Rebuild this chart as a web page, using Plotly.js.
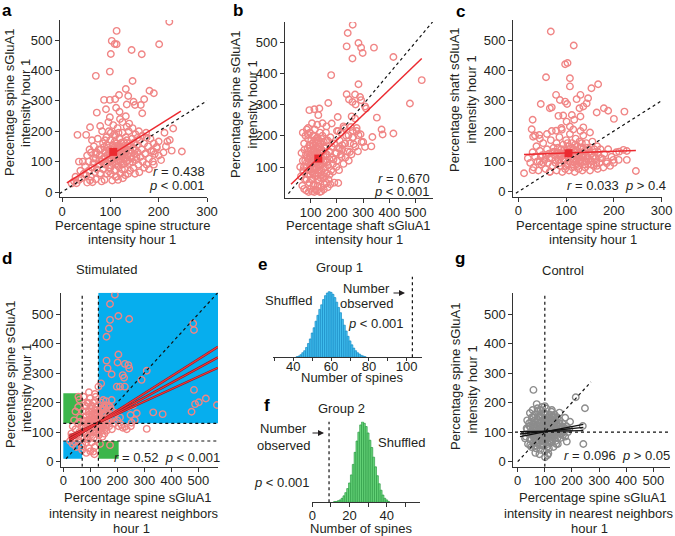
<!DOCTYPE html>
<html>
<head>
<meta charset="utf-8">
<script src="https://cdn.plot.ly/plotly-3.0.1.min.js"></script>
<style>
  html, body { margin: 0; padding: 0; background: #fff; }
  #fig { width: 675px; height: 536px; }
</style>
</head>
<body>
<div id="fig"></div>
<script>
(function () {
	"use strict";

	// ---- data ----
	// a: spine structure (x) vs spine sGluA1 (y)
	var aPoints = [
		[222,560],[113,530],[103,497],[113,486],[109,487],[101,454],[144,467],[165,453],[201,486],[70,382],
		[99,396],[146,365],[132,339],[181,333],[190,325],[118,319],[137,316],[110,305],[87,303],[99,303],
		[148,297],[170,305],[151,286],[163,286],[134,288],[72,261],[91,272],[112,277],[119,264],[166,259],
		[132,249],[99,246],[58,213],[79,217],[50,188],[32,188],[230,209],[212,195],[223,171],[248,133],
		[227,136],[218,166],[200,166],[175,179],[196,149],[189,133],[173,127],[35,100],[113,50],[30,29],
		[52,31],[79,61],
		[40,45],[45,60],[50,55],[55,70],[60,50],[62,80],[65,95],[68,65],[70,110],[72,75],[75,90],[78,120],
		[80,60],[80,140],[82,100],[85,75],[85,160],[88,115],[90,130],[90,90],[92,180],[93,60],[95,105],
		[95,145],[97,200],[98,125],[100,80],[100,170],[102,110],[103,140],[104,95],[105,155],[106,220],
		[107,120],[108,70],[110,135],[110,185],[112,100],[113,160],[114,115],[115,210],[116,145],[117,85],
		[118,130],[119,175],[120,105],[120,240],[122,150],[123,125],[124,90],[125,195],[126,140],[127,110],
		[128,165],[130,130],[130,75],[132,180],[133,100],[135,150],[136,120],[138,200],[140,95],[140,160],
		[142,135],[144,110],[145,175],[147,145],[148,80],[150,125],[152,190],[153,105],[155,155],[157,130],
		[158,90],[160,170],[162,115],[165,140],[167,100],[170,160],[172,125],[175,90],[178,150],[180,110],
		[185,135],[188,100],[192,125],[60,130],[55,100],[48,85],[35,40],[38,70],[52,120],[66,150],[74,175],
		[83,200],[96,230],[86,95],[101,60],[111,50],[121,60],[131,55],[141,70],[151,60],[25,35],[28,50],
		[58,38],[70,42],[88,40],[76,140],[69,125],[93,155],[108,190],[125,230],[139,225],[146,210],[159,200],
		[166,185],[174,195],[183,175],[190,160],[196,145],[200,120],[205,105],[210,130],[215,150],[160,65],
		[170,80],[180,75],[190,90],[137,60],[126,45],[116,40],[104,38],[82,35],[63,32],[20,28],[43,100],
		[57,140],[62,170],[98,112],[106,128],[114,138],[121,118],[109,148],[117,102],[129,146],[101,132],
		[84,108],[91,97],[94,122],[97,138],[99,88],[103,104],[105,118],[107,146],[109,165],[111,92],[113,128],
		[115,152],[116,118],[119,140],[121,98],[123,162],[124,135],[126,122],[128,92],[129,152],[131,112],
		[133,138],[134,170],[136,104],[139,128],[141,148],[143,118],[146,98],[149,162],[151,140],[154,115],
		[156,178],[87,148],[89,170],[77,105],[72,130],[66,110],[101,195],[117,195],[134,215],[124,75],
		[111,72],[97,68]
	];
	// b: shaft sGluA1 (x) vs spine sGluA1 (y)
	var bPoints = [
		[260,555],[241,529],[237,486],[259,447],[282,497],[292,482],[298,465],[341,482],[415,452],[523,378],
		[478,303],[178,394],[282,365],[237,333],[269,332],[288,324],[246,316],[259,308],[271,300],[292,314],
		[307,294],[311,287],[167,305],[133,287],[114,285],[95,282],[129,266],[203,260],[352,258],[370,220],
		[374,204],[415,207],[335,196],[256,262],[269,255],[225,230],[253,228],[275,215],[282,202],[259,194],
		[205,215],[180,239],[244,202],[294,180],[307,164],[331,166],[231,175],[211,159],[198,145],[249,148],
		[187,124],[218,132],[264,173],[205,49],[161,49],[114,20],[140,22],[72,84],
		[65,145],[70,120],[72,90],[75,175],[78,60],[80,200],[82,140],[85,100],[85,220],[88,160],[90,75],
		[90,190],[92,125],[95,50],[95,170],[97,210],[98,105],[100,140],[100,30],[102,185],[104,85],[105,155],
		[106,60],[108,200],[110,120],[110,40],[112,170],[114,95],[115,140],[116,220],[118,70],[120,180],
		[120,110],[122,150],[124,25],[125,130],[126,195],[128,80],[130,165],[130,100],[132,55],[134,145],
		[135,210],[136,120],[138,175],[140,90],[140,35],[142,155],[144,110],[145,200],[147,65],[148,135],
		[150,180],[150,95],[152,45],[155,160],[156,120],[158,210],[160,80],[162,140],[165,185],[166,105],
		[168,60],[170,150],[172,125],[175,195],[178,90],[180,165],[182,130],[185,110],[190,175],[195,145],
		[200,120],[205,160],[210,185],[215,140],[220,170],[60,100],[63,70],[68,40],[75,30],[83,25],[92,20],
		[105,22],[118,28],[135,20],[150,28],[165,35],[175,45],[190,50],[160,230],[145,240],[125,235],
		[105,240],[90,225],[70,210],[108,80],[118,160],[128,115],[138,65],[96,135],[86,115],[76,155],[155,70],
		[172,75],[185,85],[198,100],[208,90],[225,110],[232,130],[240,150],[250,175],[262,195],[270,165],
		[245,120],[255,140],[280,150],[300,180],[290,205],[275,225],[260,215],[235,200],[228,225],[215,210],
		[200,215],[220,155],[230,175],[112,132],[124,148],[133,118],[102,118],[118,92],[128,178],
		[88,130],[92,150],[94,90],[98,170],[101,110],[103,60],[106,175],[107,135],[109,95],[111,150],
		[113,200],[116,125],[117,80],[119,140],[121,190],[123,100],[125,160],[127,60],[129,140],[131,185],
		[133,90],[135,165],[137,105],[139,130],[141,190],[143,75],[146,150],[149,120],[151,165],[154,100],
		[157,140],[159,185],[161,115],[99,75],[89,205],[84,60],[79,120],[74,100],[112,45],[126,40]
	];
	// c: spine structure (x) vs shaft sGluA1 (y)
	var cPoints = [
		[68,528],[116,482],[98,420],[103,424],[108,374],[108,347],[58,377],[153,341],[167,354],[47,289],
		[70,278],[66,275],[79,319],[87,302],[98,297],[102,289],[122,305],[130,319],[146,308],[143,291],
		[136,281],[128,275],[164,261],[179,275],[188,267],[200,240],[222,264],[112,253],[94,251],[84,250],
		[101,231],[117,237],[130,248],[30,237],[28,206],[31,181],[44,187],[136,212],[108,215],[91,204],
		[79,201],[12,61],[30,71],[45,99],[246,68],[227,105],[220,138],[227,134],[211,132],[199,105],
		[185,94],[164,85],[143,99],[66,66],
		[20,110],[25,95],[30,130],[32,80],[35,115],[38,150],[40,100],[42,70],[45,135],[48,90],[50,120],
		[52,160],[55,105],[57,75],[60,140],[62,95],[64,125],[66,65],[68,170],[70,110],[72,85],[74,145],
		[76,120],[78,95],[80,160],[80,70],[82,130],[84,105],[86,180],[88,85],[90,140],[90,115],[92,65],
		[94,155],[95,100],[96,125],[98,75],[100,170],[100,135],[102,90],[104,115],[105,150],[106,70],
		[108,190],[110,125],[110,95],[112,160],[113,80],[115,140],[116,105],[118,65],[120,175],[120,120],
		[122,90],[124,150],[125,110],[126,75],[128,165],[130,130],[130,95],[132,145],[134,70],[135,115],
		[136,185],[138,100],[140,135],[140,80],[142,160],[145,115],[146,90],[148,140],[150,70],[152,125],
		[154,100],[155,165],[158,85],[160,130],[162,110],[165,150],[166,75],[168,120],[170,95],[172,140],
		[175,110],[178,80],[180,125],[185,100],[188,140],[192,85],[195,115],[200,95],[205,130],[210,105],
		[60,190],[70,200],[90,210],[115,205],[130,200],[150,195],[45,175],[35,185],[86,118],[97,108],
		[118,132],[127,100],[108,142],[75,132],
		[65,110],[72,130],[78,105],[83,145],[87,95],[89,125],[93,110],[97,140],[99,85],[101,120],[103,160],
		[106,100],[107,130],[111,110],[113,145],[114,90],[117,120],[119,155],[121,100],[123,135],[125,85],
		[127,120],[129,145],[131,105],[133,160],[137,125],[139,90],[141,115],[144,145],[147,105],[149,130],
		[153,90],[156,115],[159,140],[163,95],[167,130],[171,110],[58,120],[52,95],[47,115]
	];
	// d: stimulated, neighbours (x) vs spine sGluA1 (y)
	var dPoints = [
		[191,565],[173,534],[204,493],[244,483],[173,480],[169,451],[481,468],[484,446],[160,423],[204,363],
		[160,342],[201,336],[164,316],[228,331],[241,327],[244,316],[179,296],[220,293],[225,284],[309,308],
		[290,277],[198,254],[210,254],[228,254],[140,265],[130,254],[484,243],[475,169],[488,195],[502,201],
		[528,214],[569,192],[333,167],[368,161],[309,111],[253,132],[265,141],[272,164],[259,192],[179,209],
		[148,209],[241,186],[249,158],[228,118],[173,56],[31,85],[43,68],[68,51],[89,85],[111,34],[62,135],
		[56,220],[86,186],[117,229],[93,198],[123,175],
		[25,70],[30,95],[35,60],[40,80],[45,110],[48,50],[50,90],[55,130],[58,70],[60,100],[62,150],[65,85],
		[68,120],[70,60],[72,170],[74,100],[76,140],[78,80],[80,190],[82,115],[84,65],[86,155],[88,95],
		[90,130],[90,200],[92,75],[94,170],[95,110],[96,45],[98,145],[100,90],[100,215],[102,125],[104,180],
		[105,65],[106,155],[108,105],[110,135],[110,200],[112,80],[114,165],[115,120],[116,50],[118,145],
		[120,100],[120,220],[122,175],[124,130],[125,75],[126,155],[128,110],[130,190],[130,140],[132,90],
		[134,165],[135,120],[136,60],[138,150],[140,105],[140,200],[142,175],[144,130],[145,85],[146,160],
		[148,115],[150,185],[150,140],[152,95],[155,165],[156,125],[158,205],[160,150],[160,105],[162,175],
		[165,135],[168,190],[170,120],[172,160],[175,140],[178,175],[180,110],[185,150],[190,130],[195,165],
		[200,140],[205,120],[210,150],[215,125],[220,115],[235,110],[250,120],[70,40],[85,30],[100,35],
		[115,25],[60,210],[75,220],[95,235],[45,170],[40,140],[35,120],[55,185],[118,118],[128,160],[106,138],
		[88,115],[92,140],[96,160],[99,120],[101,100],[103,150],[107,120],[109,170],[111,145],[113,100],
		[117,130],[119,185],[121,160],[123,115],[127,140],[129,95],[131,170],[133,130],[137,110],[139,180],
		[141,145],[143,120],[147,175],[149,130],[151,160],[153,110],[157,145],[159,125],[161,190],[163,140],
		[167,155],[171,135],[174,185],[79,135],[74,115],[84,170],[105,190],[117,205]
	];
	// g: control, neighbours (x) vs spine sGluA1 (y)
	var gPoints = [
		[58,243],[214,218],[248,181],[73,181],[100,188],[154,166],[175,149],[125,169],[193,135],[178,109],
		[240,121],[242,60],[181,68],[113,28],[101,15],[27,79],[33,113],[46,56],
		[30,85],[35,110],[38,60],[40,95],[42,130],[45,75],[48,115],[50,50],[52,150],[55,90],[57,125],
		[58,65],[60,105],[62,160],[64,80],[66,135],[68,45],[70,115],[72,95],[74,170],[75,60],[76,140],
		[78,100],[80,80],[80,155],[82,120],[84,40],[85,175],[86,95],[88,135],[90,70],[90,110],[92,150],
		[94,55],[95,125],[96,90],[98,165],[100,105],[100,35],[102,140],[104,75],[105,120],[106,180],[108,90],
		[110,150],[110,60],[112,110],[114,130],[115,45],[116,95],[118,160],[120,80],[120,120],[122,100],
		[124,140],[125,65],[126,175],[128,110],[130,90],[130,150],[132,50],[134,125],[135,80],[136,160],
		[138,100],[140,135],[140,70],[142,115],[145,90],[146,150],[148,60],[150,120],[152,100],[155,140],
		[158,80],[160,115],[162,95],[165,130],[170,105],[175,85],[180,120],[185,100],[190,110],[65,30],
		[80,25],[110,22],[55,175],[45,165],[35,140],[70,195],[90,185],[68,88],[78,128],[88,82],[96,112],
		[104,98],[112,132],[122,88],[132,108],[84,150],[62,118],[118,72],[142,98],[100,140],[92,60],
		[52,100],[56,110],[60,80],[63,140],[66,95],[69,125],[71,70],[73,105],[77,150],[79,88],[81,110],
		[83,130],[86,75],[87,160],[89,100],[91,125],[93,85],[95,140],[97,110],[99,75],[101,125],[103,160],
		[105,95],[107,135],[109,110],[111,80],[113,145],[115,120],[117,100],[119,140],[121,65],[123,115],
		[125,90],[127,130],[129,155],[131,100],[133,120],[137,90],[139,145],[141,110],[144,125],[147,80],
		[149,105],[153,130],[156,110],[159,95],[163,120],[167,90],[172,115],[48,95],[44,120],[50,135],
		[58,150],[64,55],[82,55],[108,50],[128,75],[142,60]
	];

	// means (red squares)
	var aMean = [106, 132], bMean = [129, 127], cMean = [105, 127];
	// regression lines [x0, y0, x1, y1]
	var aFit = [10, 30, 246, 266];
	var bFit = [25, 45, 523, 447];
	var cFit = [12, 123, 246, 136];
	var dFits = [[22, 70, 573, 389], [22, 78, 573, 353], [22, 87, 573, 318]];
	var gFits = [[8.5, 84.7, 242, 126.6], [8.5, 93.8, 242, 116.5], [8.5, 101.6, 242, 105]];

	// e / f shuffled distributions (relative counts per spine number)
	var eBins = [42,43,44,45,46,47,48,49,50,51,52,53,54,55,56,57,58,59,60,61,62,63,64,65,66,67,68,69,70,71,72,73,74,75,76,77,78];
	var eCounts = [1,2,4,7,10,15,21,28,37,45,55,64,73,80,88,94,98,100,99,96,91,84,76,68,58,49,40,32,25,19,14,10,7,5,3,2,1];
	var eObserved = 103;
	var fBins = [12,13,14,15,16,17,18,19,20,21,22,23,24,25,26,27,28,29,30,31,32,33,34,35,36,37,38,39,40,41];
	var fCounts = [1,1,2,3,5,8,12,17,24,34,47,62,76,87,96,100,98,94,86,77,68,56,44,33,23,15,9,5,3,1];
	var fObserved = 9;

	// ---- layout helpers (pixel geometry of the figure) ----
	var W = 675, H = 536;
	var FONT = "Arial, 'Liberation Sans', sans-serif";
	var INK = "#231f20";
	var PINK = "#f08585";
	var RED = "#ec2a30";

	function lin(p0, v0, p1, v1, e0, e1) {
		var k = (v1 - v0) / (p1 - p0);
		return [v0 + (e0 - p0) * k, v0 + (e1 - p0) * k];
	}
	function xdom(a, b) { return [a / W, b / W]; }
	function ydom(bottom, top) { return [1 - bottom / H, 1 - top / H]; }

	function axis(extra) {
		var base = {
			showline: true, linecolor: "#333", linewidth: 1,
			ticks: "outside", ticklen: 4, tickcolor: "#333", tickwidth: 1,
			showgrid: false, zeroline: false, fixedrange: true,
			tickfont: { family: FONT, size: 13, color: INK }
		};
		for (var k in extra) base[k] = extra[k];
		return base;
	}
	function note(text, x, y, extra) {
		var n = {
			xref: "paper", yref: "paper", x: x / W, y: 1 - y / H, text: text,
			showarrow: false, xanchor: "center", yanchor: "middle",
			font: { family: FONT, size: 13, color: INK }
		};
		for (var k in extra) n[k] = extra[k];
		return n;
	}
	function col(pts, i) { return pts.map(function (p) { return p[i]; }); }

	var rA = { x: lin(62, 0, 207, 300, 60, 207), y: lin(192, 0, 40, 500, 197, 20) };
	var rB = { x: lin(310.7, 100, 415.7, 500, 285, 433), y: lin(167, 100, 42, 500, 198, 22) };
	var rC = { x: lin(518.3, 0, 661.7, 300, 513, 662), y: lin(191.7, 0, 40, 500, 196.7, 20) };
	var rD = { x: lin(63.3, 0, 198.3, 500, 61, 218), y: lin(461.7, 0, 314, 500, 466.7, 292.7) };
	var rE = { x: lin(293.3, 40, 406.7, 100, 273.3, 421.7), y: lin(357.3, 0, 291.7, 100, 357.3, 276.7) };
	var rF = { x: lin(312.3, 0, 386.7, 40, 312.3, 420), y: [0, 100] };
	var rG = { x: lin(517.7, 0, 653.3, 500, 513.3, 670), y: lin(461.7, 0, 314, 500, 466.7, 293.3) };

	var hund = [0, 100, 200, 300, 400, 500];

	// ---- traces ----
	var data = [];
	function scatter(pts, xa, ya, color) {
		data.push({
			type: "scatter", mode: "markers", x: col(pts, 0), y: col(pts, 1), xaxis: xa, yaxis: ya,
			marker: { symbol: "circle-open", size: 6.5, color: color, line: { width: 1.4, color: color } },
			hoverinfo: "skip", cliponaxis: true
		});
	}
	function fit(f, xa, ya, color, width) {
		data.push({
			type: "scatter", mode: "lines", x: [f[0], f[2]], y: [f[1], f[3]], xaxis: xa, yaxis: ya,
			line: { color: color, width: width }, hoverinfo: "skip"
		});
	}
	function mean(m, xa, ya) {
		data.push({
			type: "scatter", mode: "markers", x: [m[0]], y: [m[1]], xaxis: xa, yaxis: ya,
			marker: { symbol: "square", size: 8, color: RED }, hoverinfo: "skip"
		});
	}

	scatter(aPoints, "x", "y", PINK);
	fit(aFit, "x", "y", RED, 1.5);
	mean(aMean, "x", "y");

	scatter(bPoints, "x2", "y2", PINK);
	fit(bFit, "x2", "y2", RED, 1.5);
	mean(bMean, "x2", "y2");

	scatter(cPoints, "x3", "y3", PINK);
	fit(cFit, "x3", "y3", RED, 1.5);
	mean(cMean, "x3", "y3");

	scatter(dPoints, "x4", "y4", PINK);
	dFits.forEach(function (f) { fit(f, "x4", "y4", "#9e1a1e", 2.4); });
	dFits.forEach(function (f) { fit(f, "x4", "y4", "#f03a3f", 1.1); });

	data.push({
		type: "bar", x: eBins, y: eCounts, xaxis: "x5", yaxis: "y5", width: 1,
		marker: { color: "#45c3f2", line: { color: "#1589c4", width: 0.7 } }, hoverinfo: "skip"
	});
	data.push({
		type: "bar", x: fBins, y: fCounts, xaxis: "x6", yaxis: "y6", width: 1,
		marker: { color: "#6edb80", line: { color: "#2a9a42", width: 0.7 } }, hoverinfo: "skip"
	});

	scatter(gPoints, "x7", "y7", "#8c8c8c");
	gFits.forEach(function (f) { fit(f, "x7", "y7", "#111", 1.3); });

	// ---- shapes ----
	var dash = { color: "#111", width: 1.2, dash: "3px,3px" };
	function seg(xr, yr, x0, y0, x1, y1) {
		return { type: "line", xref: xr, yref: yr, x0: x0, y0: y0, x1: x1, y1: y1, line: dash, layer: "above" };
	}
	function box(xr, yr, x0, y0, x1, y1, color) {
		return { type: "rect", xref: xr, yref: yr, x0: x0, y0: y0, x1: x1, y1: y1,
			fillcolor: color, line: { width: 0 }, layer: "below" };
	}
	var BLUE = "#06aeee", GREEN = "#3cb64b";
	var shapes = [
		seg("x", "y", -5, -5, 300, 300),
		seg("x2", "y2", 15, 15, 565, 565),
		seg("x3", "y3", -5, -5, 300, 300),

		box("x4", "y4", 130, 130, rD.x[1], rD.y[1], BLUE),
		box("x4", "y4", 0, 10, 70, 70, BLUE),
		box("x4", "y4", 0, 130, 70, 232, GREEN),
		box("x4", "y4", 130, 10, 205, 70, GREEN),
		seg("x4", "y4", 70, rD.y[0], 70, rD.y[1]),
		seg("x4", "y4", 130, rD.y[0], 130, rD.y[1]),
		seg("x4", "y4", 0, 130, rD.x[1], 130),
		seg("x4", "y4", 0, 70, rD.x[1], 70),
		seg("x4", "y4", 10, 10, 575, 575),

		{ type: "line", xref: "x5", yref: "y5 domain", x0: eObserved, x1: eObserved, y0: 0, y1: 1, line: dash },
		{ type: "line", xref: "x6", yref: "y6 domain", x0: fObserved, x1: fObserved, y0: 0, y1: 1, line: dash },

		seg("x7", "y7", 100, rG.y[0], 100, 565),
		seg("x7", "y7", -10, 100, 555, 100),
		seg("x7", "y7", 0, 0, 270, 270)
	];

	// ---- text ----
	var B = 17;
	var ann = [
		note("<b>a</b>", 7, 10, { font: { family: FONT, size: B, color: "#000" } }),
		note("<b>b</b>", 238, 10, { font: { family: FONT, size: B, color: "#000" } }),
		note("<b>c</b>", 460, 11, { font: { family: FONT, size: B, color: "#000" } }),
		note("<b>d</b>", 7, 258, { font: { family: FONT, size: B, color: "#000" } }),
		note("<b>e</b>", 262, 264, { font: { family: FONT, size: B, color: "#000" } }),
		note("<b>f</b>", 267, 405, { font: { family: FONT, size: B, color: "#000" } }),
		note("<b>g</b>", 460, 258, { font: { family: FONT, size: B, color: "#000" } }),

		note("Percentage spine sGluA1", 10, 103, { textangle: -90 }),
		note("intensity hour 1", 26, 103, { textangle: -90 }),
		note("Percentage spine structure", 132, 225),
		note("intensity hour 1", 132, 240),
		note("<i>r</i> = 0.438", 207, 171, { xanchor: "right" }),
		note("<i>p</i> &lt; 0.001", 207, 186, { xanchor: "right" }),

		note("Percentage spine sGluA1", 235, 105, { textangle: -90 }),
		note("intensity hour 1", 251.5, 105, { textangle: -90 }),
		note("Percentage shaft sGluA1", 359, 225),
		note("intensity hour 1", 359, 240),
		note("<i>r</i> = 0.670", 432, 179, { xanchor: "right" }),
		note("<i>p</i> &lt; 0.001", 432, 192, { xanchor: "right" }),

		note("Percentage shaft sGluA1", 455, 100, { textangle: -90 }),
		note("intensity hour 1", 471.5, 100, { textangle: -90 }),
		note("Percentage spine structure", 593, 225),
		note("intensity hour 1", 593, 240),
		note("<i>r</i> = 0.033&nbsp;&nbsp;<i>p</i> &gt; 0.4", 668, 186, { xanchor: "right" }),

		note("Stimulated", 106, 269),
		note("Percentage spine sGluA1", 10, 375, { textangle: -90 }),
		note("intensity hour 1", 26, 388, { textangle: -90 }),
		note("Percentage spine sGluA1", 137, 497),
		note("intensity in nearest neighbors", 134, 513),
		note("hour 1", 131, 528),
		note("<i>r</i> = 0.52&nbsp;&nbsp;<i>p</i> &lt; 0.001", 222, 457, { xanchor: "right" }),

		note("Group 1", 340, 267),
		note("Shuffled", 288, 300),
		note("Number", 366, 288),
		note("observed", 366, 303),
		note("<i>p</i> &lt; 0.001", 376, 323),
		note("Number of spines", 352, 377),

		note("Group 2", 341, 408),
		note("Number", 283, 428),
		note("observed", 283, 445),
		note("Shuffled", 402, 442),
		note("<i>p</i> &lt; 0.001", 282, 482),
		note("Number of spines", 361, 528),

		note("Control", 563, 270),
		note("Percentage spine sGluA1", 455, 377, { textangle: -90 }),
		note("intensity hour 1", 471.5, 390, { textangle: -90 }),
		note("Percentage spine sGluA1", 592, 497),
		note("intensity in nearest neighbors", 589, 513),
		note("hour 1", 589, 528),
		note("<i>r</i> = 0.096&nbsp;&nbsp;<i>p</i> &gt; 0.05", 672, 455, { xanchor: "right" })
	];
	// arrows pointing at the observed numbers
	function arrow(x0, x1, y) {
		return {
			xref: "paper", yref: "paper", x: x1 / W, y: 1 - y / H, ax: x0 - x1, ay: 0, text: "",
			showarrow: true, arrowhead: 2, arrowsize: 1, arrowwidth: 1.2, arrowcolor: INK
		};
	}
	ann.push(arrow(392, 405, 293));
	ann.push(arrow(311, 324, 433));

	var layout = {
		width: W, height: H,
		margin: { l: 0, r: 0, t: 0, b: 0, pad: 0 },
		paper_bgcolor: "#fff", plot_bgcolor: "rgba(0,0,0,0)",
		showlegend: false,
		font: { family: FONT, size: 13, color: INK },
		bargap: 0,

		xaxis: axis({ domain: xdom(60, 207), range: rA.x, anchor: "y", tickvals: [0, 100, 200, 300], ticklabelstandoff: -2 }),
		yaxis: axis({ domain: ydom(197, 20), range: rA.y, anchor: "x", tickvals: hund }),

		xaxis2: axis({ domain: xdom(285, 433), range: rB.x, anchor: "y2", tickvals: [100, 200, 300, 400, 500], ticklabelstandoff: -2 }),
		yaxis2: axis({ domain: ydom(198, 22), range: rB.y, anchor: "x2", tickvals: [100, 200, 300, 400, 500] }),

		xaxis3: axis({ domain: xdom(513, 662), range: rC.x, anchor: "y3", tickvals: [0, 100, 200, 300], ticklabelstandoff: -2 }),
		yaxis3: axis({ domain: ydom(196.7, 20), range: rC.y, anchor: "x3", tickvals: hund }),

		xaxis4: axis({ domain: xdom(61, 218), range: rD.x, anchor: "y4", tickvals: hund, ticklabelstandoff: -2 }),
		yaxis4: axis({ domain: ydom(466.7, 292.7), range: rD.y, anchor: "x4", tickvals: hund }),

		xaxis5: axis({ domain: xdom(273.3, 421.7), range: rE.x, anchor: "y5",
			tickvals: [30, 40, 50, 60, 70, 80, 90, 100],
			ticktext: ["", "40", "", "60", "", "80", "", "100"], ticklen: 3, ticklabelstandoff: -6 }),
		yaxis5: { domain: ydom(357.3, 276.7), range: rE.y, anchor: "x5", visible: false, fixedrange: true },

		xaxis6: axis({ domain: xdom(312.3, 420), range: rF.x, anchor: "y6",
			tickvals: [0, 10, 20, 30, 40, 50],
			ticktext: ["0", "", "20", "", "40", ""], ticklabelstandoff: -3 }),
		yaxis6: { domain: ydom(502.3, 421.7), range: rF.y, anchor: "x6", visible: false, fixedrange: true },

		xaxis7: axis({ domain: xdom(513.3, 670), range: rG.x, anchor: "y7", tickvals: hund, ticklabelstandoff: -2 }),
		yaxis7: axis({ domain: ydom(466.7, 293.3), range: rG.y, anchor: "x7", tickvals: hund }),

		shapes: shapes,
		annotations: ann
	};

	Plotly.newPlot("fig", data, layout, { displayModeBar: false, staticPlot: true });
})();
</script>
</body>
</html>
